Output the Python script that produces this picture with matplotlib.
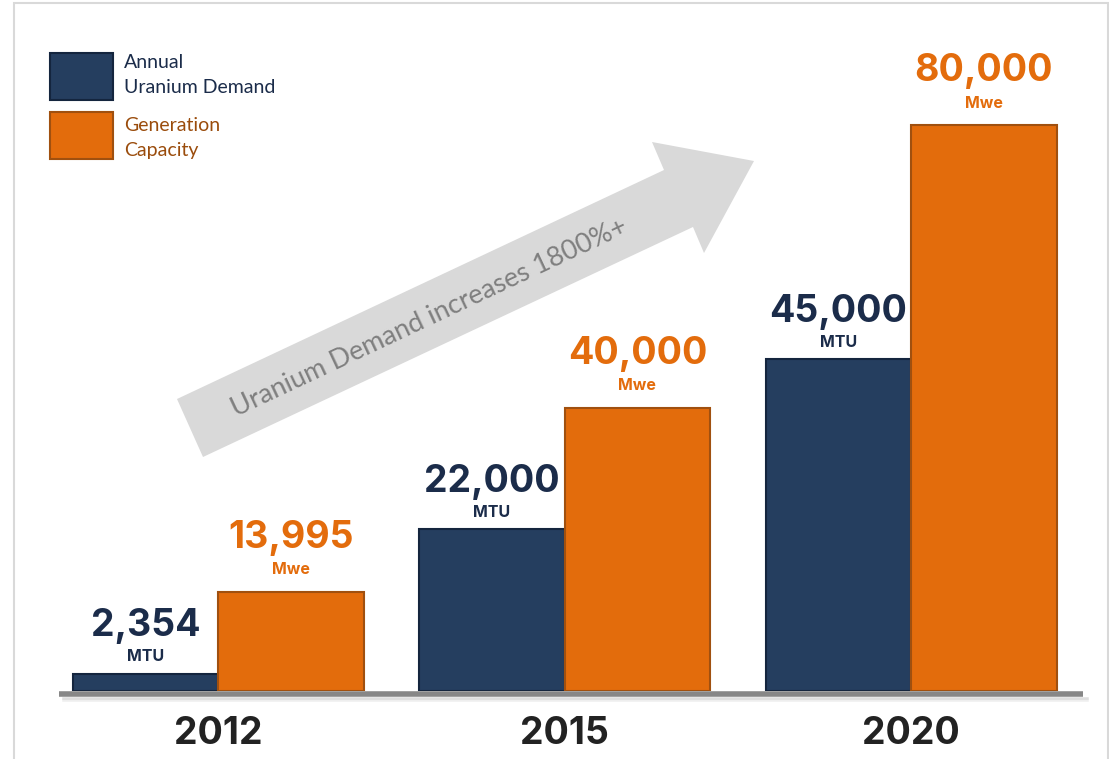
import matplotlib.pyplot as plt
from matplotlib.patches import Polygon, Rectangle
from matplotlib.lines import Line2D

# data
years = ['2012', '2015', '2020']
demand = [2354, 22000, 45000]          # MTU
capacity = [13995, 40000, 80000]       # Mwe
demand_labels = ['2,354', '22,000', '45,000']
capacity_labels = ['13,995', '40,000', '80,000']

NAVY = '#253E5F'
NAVY_EDGE = '#14253E'
NAVY_TEXT = '#1B2C4A'
ORANGE = '#E36C0C'
ORANGE_EDGE = '#A0500F'
ORANGE_TEXT = '#9A4C0C'

W, H = 1109, 759


def px(x, y):
    # pixel position -> figure fraction
    return x / W, 1 - y / H


fig = plt.figure(figsize=(W / 100, H / 100), dpi=100)

# light frame round the slide (bottom edge runs off the picture)
fig.patches.append(Rectangle(px(14, 770), (1108 - 14) / W, (770 - 3) / H,
                             transform=fig.transFigure, fill=False,
                             edgecolor='#d9d9d9', linewidth=1.5))

# big grey arrow behind the bars
arrow_px = [(177, 399), (664, 170), (652, 142), (754, 161),
            (704, 253), (693, 227), (203, 457)]
fig.patches.append(Polygon([px(*p) for p in arrow_px], closed=True,
                           transform=fig.transFigure, facecolor='#d9d9d9',
                           edgecolor='none', zorder=0))
fig.text(*px(429, 318), 'Uranium Demand increases 1800%+', rotation=25.2,
         rotation_mode='anchor', ha='center', va='center', color='#7f7f7f',
         fontsize=19.5, family='Lato')

left, right, base, top = 59, 1083, 691, 20
ax = fig.add_axes([left / W, 1 - base / H, (right - left) / W, (base - top) / H])
ax.patch.set_alpha(0)
ax2 = ax.twinx()

x = range(len(years))
w = 0.42
xd = [i - w / 2 for i in x]
xc = [i + w / 2 for i in x]

ax.bar(xd, demand, w, color=NAVY, edgecolor=NAVY_EDGE, linewidth=1.5, zorder=3)
ax2.bar(xc, capacity, w, color=ORANGE, edgecolor=ORANGE_EDGE, linewidth=1.5, zorder=3)

ax.set_ylim(0, 91000)
ax2.set_ylim(0, 94900)
ax.set_xlim(-0.459, 2.496)

for xi, v, lab in zip(xd, demand, demand_labels):
    ax.annotate(lab, (xi, v), xytext=(0, 34), textcoords='offset points',
                ha='center', va='center', fontsize=27, fontweight='bold',
                family='Inter', color=NAVY_TEXT)
    ax.annotate('MTU', (xi, v), xytext=(0, 12), textcoords='offset points',
                ha='center', va='center', fontsize=11.5, fontweight='bold',
                family='Inter', color=NAVY_TEXT)

for xi, v, lab in zip(xc, capacity, capacity_labels):
    ax2.annotate(lab, (xi, v), xytext=(0, 39), textcoords='offset points',
                 ha='center', va='center', fontsize=27, fontweight='bold',
                 family='Inter', color=ORANGE)
    ax2.annotate('Mwe', (xi, v), xytext=(0, 16), textcoords='offset points',
                 ha='center', va='center', fontsize=11.5, fontweight='bold',
                 family='Inter', color=ORANGE)

for a in (ax, ax2):
    for s in ('top', 'left', 'right'):
        a.spines[s].set_visible(False)
    a.set_yticks([])
ax2.spines['bottom'].set_visible(False)
ax.spines['bottom'].set_position(('outward', 2.0))
ax.spines['bottom'].set_linewidth(4.0)
ax.spines['bottom'].set_color('#878787')
ax.spines['bottom'].set_capstyle('butt')

# soft shadow under the base line
for dy, a in ((698, 0.6), (700, 0.3)):
    fig.add_artist(Line2D([(left + 4) / W, (right + 4) / W], [px(0, dy)[1]] * 2,
                          color='#c8c8c8', linewidth=1.8, alpha=a, zorder=0))

ax.set_xticks(list(x), years)
ax.tick_params(axis='x', length=0, pad=16)
for t in ax.get_xticklabels():
    t.set_fontsize(27)
    t.set_fontweight('bold')
    t.set_family('Inter')
    t.set_color('#222222')

# legend, drawn by hand
fig.patches.append(Rectangle(px(50, 100), 63 / W, 47 / H, transform=fig.transFigure,
                             facecolor=NAVY, edgecolor=NAVY_EDGE, linewidth=1.5))
fig.patches.append(Rectangle(px(50, 159), 63 / W, 47 / H, transform=fig.transFigure,
                             facecolor=ORANGE, edgecolor=ORANGE_EDGE, linewidth=1.5))
fig.text(*px(124, 75), 'Annual\nUranium Demand', ha='left', va='center',
         fontsize=14, family='Lato', color=NAVY_TEXT, linespacing=1.6)
fig.text(*px(124, 138), 'Generation\nCapacity', ha='left', va='center',
         fontsize=14, family='Lato', color=ORANGE_TEXT, linespacing=1.6)

fig.savefig('out.png', dpi=100)
